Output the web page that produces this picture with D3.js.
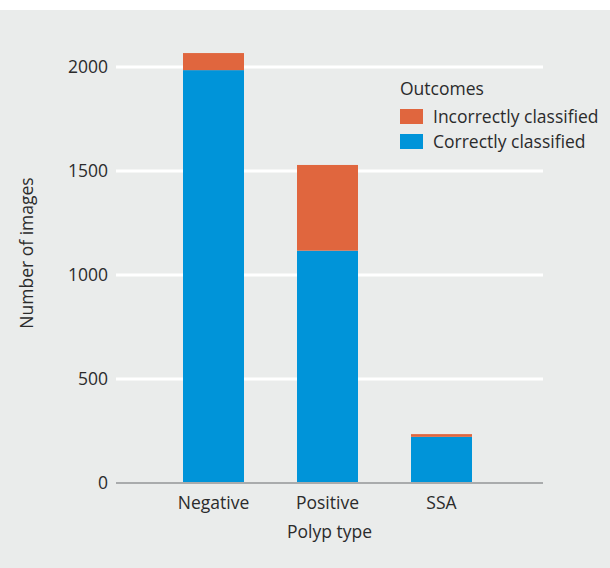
<!DOCTYPE html>
<html>
<head>
<meta charset="utf-8">
<script src="https://cdn.jsdelivr.net/npm/d3@7"></script>
<style>
  body { margin: 0; background: #fff; }
  text { font-family: "Open Sans", sans-serif; fill: #2b2b2b; font-size: 17.5px; }
</style>
</head>
<body>
<svg id="drawing_region"></svg>
<script>
const categories = ["Negative", "Positive", "SSA"];
const correct = [1985, 1117, 222];
const incorrect = [82, 412, 13];
const yTicks = [0, 500, 1000, 1500, 2000];
const seriesNames = ["Incorrectly classified", "Correctly classified"];
const seriesColors = ["#e0663e", "#0094d9"];

const width = 610, height = 568;
const svg = d3.select("#drawing_region")
    .attr("width", width)
    .attr("height", height);

// grey panel
svg.append("rect")
    .attr("x", 0).attr("y", 10)
    .attr("width", width).attr("height", height - 10)
    .attr("fill", "#eaeceb");

const x0 = 116, x1 = 543;
const x = d3.scaleBand()
    .domain(categories)
    .range([156.5, 498.5])
    .paddingInner(0.465)
    .paddingOuter(0.2325);

const y = d3.scaleLinear()
    .domain([0, 2000])
    .range([483, 67]);

// gridlines
svg.append("g").selectAll("line")
    .data(yTicks.filter(d => d > 0))
    .enter()
    .append("line")
    .attr("x1", x0).attr("x2", x1)
    .attr("y1", d => y(d)).attr("y2", d => y(d))
    .attr("stroke", "#fff")
    .attr("stroke-width", 3);

// tick labels
svg.append("g").selectAll("text")
    .data(yTicks)
    .enter()
    .append("text")
    .attr("x", 108)
    .attr("y", d => y(d))
    .attr("dy", "0.35em")
    .attr("text-anchor", "end")
    .text(d => d);

const rows = categories.map((c, i) => ({ cat: c, correct: correct[i], incorrect: incorrect[i] }));
const stack = d3.stack().keys(["correct", "incorrect"])(rows);
const colorOf = { correct: seriesColors[1], incorrect: seriesColors[0] };

// Draw bars
svg.append("g").selectAll("g")
    .data(stack)
    .enter()
    .append("g")
    .attr("fill", s => colorOf[s.key])
    .selectAll("rect")
    .data(s => s)
    .enter()
    .append("rect")
    .attr("x", d => x(d.data.cat))
    .attr("width", x.bandwidth())
    .attr("y", d => y(d[1]))
    .attr("height", d => y(d[0]) - y(d[1]));

// axis line
svg.append("line")
    .attr("x1", x0).attr("x2", x1)
    .attr("y1", y(0)).attr("y2", y(0))
    .attr("stroke", "#a9abac")
    .attr("stroke-width", 2);

// category labels
svg.append("g").selectAll("text")
    .data(categories)
    .enter()
    .append("text")
    .attr("x", d => x(d) + x.bandwidth() / 2)
    .attr("y", 509)
    .attr("text-anchor", "middle")
    .text(d => d);

svg.append("text")
    .attr("x", (x0 + x1) / 2)
    .attr("y", 538)
    .attr("text-anchor", "middle")
    .text("Polyp type");

svg.append("text")
    .attr("transform", "translate(33,253) rotate(-90)")
    .attr("text-anchor", "middle")
    .text("Number of images");

// legend
const legend = svg.append("g").attr("transform", "translate(400,0)");
legend.append("text")
    .attr("x", 0).attr("y", 95)
    .text("Outcomes");
const items = legend.selectAll("g.item")
    .data(seriesNames)
    .enter()
    .append("g")
    .attr("class", "item")
    .attr("transform", (d, i) => `translate(0,${109 + i * 25})`);
items.append("rect")
    .attr("width", 23).attr("height", 15)
    .attr("fill", (d, i) => seriesColors[i]);
items.append("text")
    .attr("x", 33).attr("y", 8)
    .attr("dy", "0.35em")
    .text(d => d);
</script>
</body>
</html>
